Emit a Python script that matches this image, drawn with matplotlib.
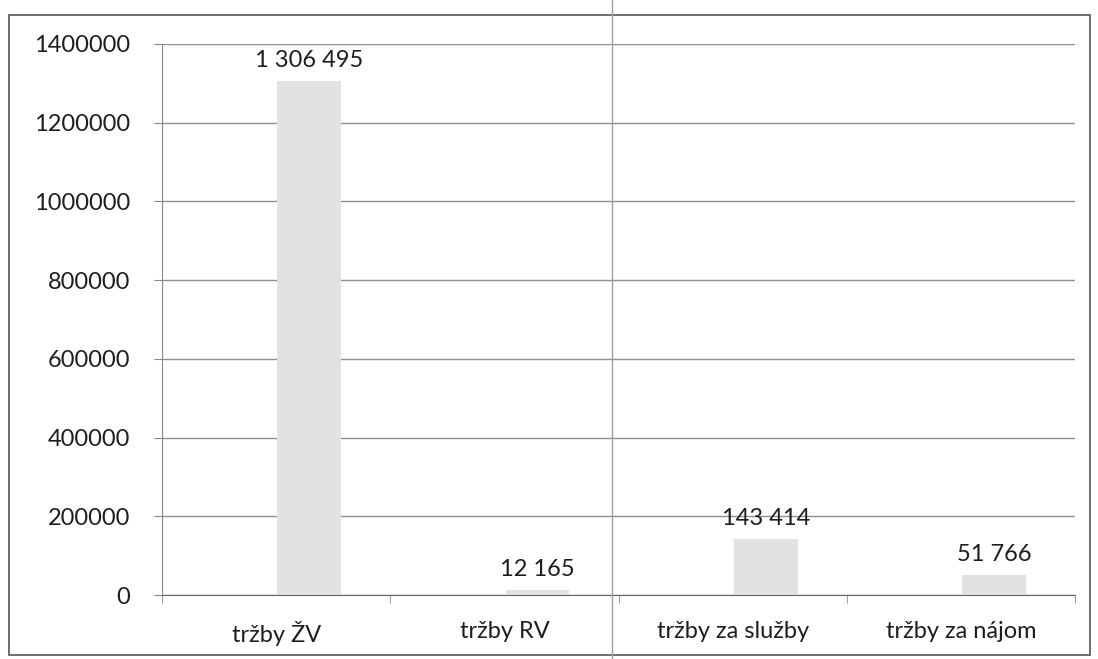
import matplotlib
matplotlib.use("Agg")
import matplotlib.pyplot as plt
from matplotlib.patches import Rectangle
from matplotlib.lines import Line2D

categories = ["tržby ŽV", "tržby RV", "tržby za služby", "tržby za nájom"]
values = [1306495, 12165, 143414, 51766]
yticks = [0, 200000, 400000, 600000, 800000, 1000000, 1200000, 1400000]

def fmt(v):
    return f"{v:,}".replace(",", " ")

plt.rcParams['font.family'] = ['Lato', 'DejaVu Sans']
fig = plt.figure(figsize=(10.98, 6.59), dpi=100)
ax = fig.add_axes([162/1098, 1 - 595/659, (1075-162)/1098, (595-44)/659])

x = list(range(len(categories)))
bar_shift = 0.145
bx = [xi + bar_shift for xi in x]
ax.bar(bx, values, width=0.28, color="#e2e2e2", zorder=2)
for xi, v in zip(bx, values):
    ax.annotate(fmt(v), (xi, v), xytext=(0, 7), textcoords="offset points",
                ha="center", va="bottom", fontsize=17, color="#1e1e1e", zorder=3)

ax.set_xlim(-0.5, len(categories) - 0.5)
ax.set_ylim(0, 1400000)
ax.set_yticks(yticks)
ax.set_yticklabels([str(t) for t in yticks], fontsize=17, color="#1e1e1e")
ax.set_xticks(x)
ax.set_xticklabels(categories, fontsize=17, color="#1e1e1e")
ax.set_xticks([i - 0.5 for i in range(len(categories) + 1)], minor=True)
ax.tick_params(axis="x", which="major", length=0, pad=19)
ax.tick_params(axis="x", which="minor", length=6, color="#888888")
ax.tick_params(axis="y", length=6, color="#888888", pad=17)
ax.yaxis.grid(True, color="#8f8f8f", linewidth=1.0, zorder=0)
for s in ["top", "right"]:
    ax.spines[s].set_visible(False)
ax.spines["left"].set_color("#888888")
ax.spines["bottom"].set_color("#666666")

# outer chart border
fig.patches.append(Rectangle((9/1098, 4/659), (1090-9)/1098, (644-4)/659,
                             transform=fig.transFigure, fill=False,
                             edgecolor="#555555", linewidth=1.2))
# vertical fold line of the scan
fig.lines.append(Line2D([612/1098, 612/1098], [0, 1], transform=fig.transFigure,
                        color="#a0a0a0", linewidth=1.0))

fig.savefig("out.png", dpi=100)
